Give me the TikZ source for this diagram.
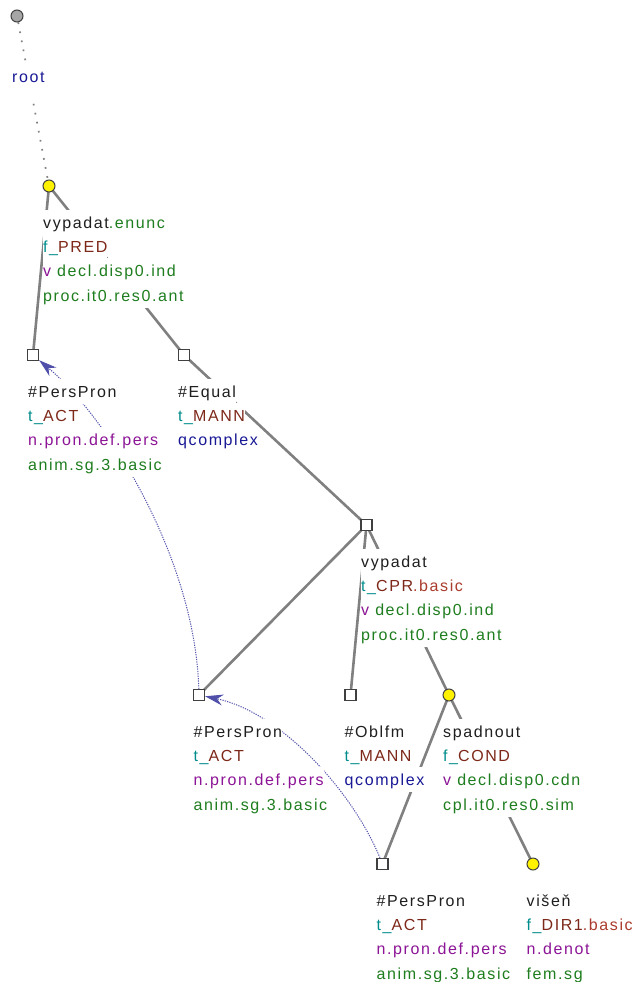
\documentclass[tikz,border=0pt]{standalone}
\usepackage{fontspec}
\setmainfont{Liberation Sans}[LetterSpace=10]
\usepackage{xcolor}
\usepackage{tikz}
\usetikzlibrary{positioning,arrows.meta,backgrounds}

\definecolor{tgreen}{RGB}{30,125,30}
\definecolor{tteal}{RGB}{0,140,140}
\definecolor{tbrown}{RGB}{125,40,25}
\definecolor{tred}{RGB}{170,60,45}
\definecolor{tpurple}{RGB}{140,20,150}
\definecolor{tnavy}{RGB}{25,25,150}
\definecolor{edgegray}{RGB}{128,128,128}
\definecolor{corefblue}{RGB}{80,80,170}
\definecolor{nodeline}{RGB}{64,64,64}

\setlength{\fboxsep}{0pt}
\setlength{\lineskiplimit}{-5pt}
% one label line on a white strip, so it hides the edges behind it
\newcommand{\tline}[2][6.5pt]{\colorbox{white}{\rule[-#1]{0pt}{\dimexpr18.8pt+#1\relax}#2}}

\begin{document}
\begin{tikzpicture}[x=1pt, y=-1pt, >={Stealth},
  tnode/.style={draw=nodeline, fill=white, line width=1.3pt, minimum size=11pt, inner sep=0pt},
  tyel/.style={circle, draw=nodeline, fill=yellow, line width=1pt, minimum size=12pt, inner sep=0pt},
  troot/.style={tyel, fill=gray!70},
  lbl/.style={inner sep=0pt, align=left, text=black!88, font=\fontsize{16}{24.3}\selectfont},
  tedge/.style={edgegray, line width=2.6pt},
  coref/.style={corefblue, line width=1pt, dash pattern=on 1.2pt off 1.2pt,
    -{Stealth[length=18pt, width=11pt]}}]
  \useasboundingbox (0,0) rectangle (639,982);
  % tree nodes
  \node[troot] (root) at (17,16) {};
  \node[tyel] (enunc) at (49,186) {};
  \node[tnode] (pp1) at (33,355) {};
  \node[tnode] (equal) at (184,355) {};
  \node[tnode] (vyp) at (366.5,525) {};
  \node[tnode] (pp2) at (199,695) {};
  \node[tnode] (oblfm) at (350.5,695) {};
  \node[tyel] (spad) at (449,695) {};
  \node[tnode] (pp3) at (382.5,864) {};
  \node[tyel] (visen) at (533,864) {};
  % labels under each node
  \node[lbl, below right=47.4pt and -5pt of root.center] (root-l)
    {\tline[16pt]{\textcolor{tnavy}{root}}};
  \node[lbl, below right=23.3pt and -6pt of enunc.center] (enunc-l)
    {\tline{vypadat\textcolor{tgreen}{.enunc}}\\
     \tline{\textcolor{tteal}{f\_}\textcolor{tbrown}{PRED}}\\
     \tline{\textcolor{tpurple}{v} \textcolor{tgreen}{decl.disp0.ind}}\\
     \tline{\textcolor{tgreen}{proc.it0.res0.ant}}};
  \node[lbl, below right=23.3pt and -5pt of pp1.center] (pp1-l)
    {\tline{\#PersPron}\\
     \tline{\textcolor{tteal}{t\_}\textcolor{tbrown}{ACT}}\\
     \tline{\textcolor{tpurple}{n.pron.def.pers}}\\
     \tline{\textcolor{tgreen}{anim.sg.3.basic}}};
  \node[lbl, below right=23.3pt and -6pt of equal.center] (equal-l)
    {\tline{\#Equal}\\
     \tline{\textcolor{tteal}{t\_}\textcolor{tbrown}{MANN}}\\
     \tline{\textcolor{tnavy}{qcomplex}}};
  \node[lbl, below right=23.3pt and -5.5pt of vyp.center] (vyp-l)
    {\tline{vypadat}\\
     \tline{\textcolor{tteal}{t\_}\textcolor{tbrown}{CPR}\textcolor{tred}{.basic}}\\
     \tline{\textcolor{tpurple}{v} \textcolor{tgreen}{decl.disp0.ind}}\\
     \tline{\textcolor{tgreen}{proc.it0.res0.ant}}};
  \node[lbl, below right=23.3pt and -5.5pt of pp2.center] (pp2-l)
    {\tline{\#PersPron}\\
     \tline{\textcolor{tteal}{t\_}\textcolor{tbrown}{ACT}}\\
     \tline{\textcolor{tpurple}{n.pron.def.pers}}\\
     \tline{\textcolor{tgreen}{anim.sg.3.basic}}};
  \node[lbl, below right=23.3pt and -6pt of oblfm.center] (oblfm-l)
    {\tline{\#Oblfm}\\
     \tline{\textcolor{tteal}{t\_}\textcolor{tbrown}{MANN}}\\
     \tline{\textcolor{tnavy}{qcomplex}}};
  \node[lbl, below right=23.3pt and -6pt of spad.center] (spad-l)
    {\tline{spadnout}\\
     \tline{\textcolor{tteal}{f\_}\textcolor{tbrown}{COND}}\\
     \tline{\textcolor{tpurple}{v} \textcolor{tgreen}{decl.disp0.cdn}}\\
     \tline{\textcolor{tgreen}{cpl.it0.res0.sim}}};
  \node[lbl, below right=23.3pt and -6pt of pp3.center] (pp3-l)
    {\tline{\#PersPron}\\
     \tline{\textcolor{tteal}{t\_}\textcolor{tbrown}{ACT}}\\
     \tline{\textcolor{tpurple}{n.pron.def.pers}}\\
     \tline{\textcolor{tgreen}{anim.sg.3.basic}}};
  \node[lbl, below right=23.3pt and -6.5pt of visen.center] (visen-l)
    {\tline{višeň}\\
     \tline{\textcolor{tteal}{f\_}\textcolor{tbrown}{DIR1}\textcolor{tred}{.basic}}\\
     \tline{\textcolor{tpurple}{n.denot}}\\
     \tline{\textcolor{tgreen}{fem.sg}}};
  % edges and coreference arrows, behind the labels
  \begin{scope}[on background layer]
    \draw[gray, line width=1.7pt, dash pattern=on 1.7pt off 7.5pt] (root) -- (enunc);
    \draw[tedge] (enunc.center) -- (pp1.center);
    \draw[tedge] (enunc.center) -- (equal.center);
    \draw[tedge] (equal.center) -- (vyp.center);
    \draw[tedge] (vyp.center) -- (pp2.center);
    \draw[tedge] (vyp.center) -- (oblfm.center);
    \draw[tedge] (vyp.center) -- (spad.center);
    \draw[tedge] (spad.center) -- (pp3.center);
    \draw[tedge] (spad.center) -- (visen.center);
    \draw[coref] (pp2) .. controls (195,560) and (110,420) .. (pp1);
    \draw[coref] (pp3) .. controls (352,790) and (280,712) .. (pp2);
  \end{scope}
\end{tikzpicture}
\end{document}
